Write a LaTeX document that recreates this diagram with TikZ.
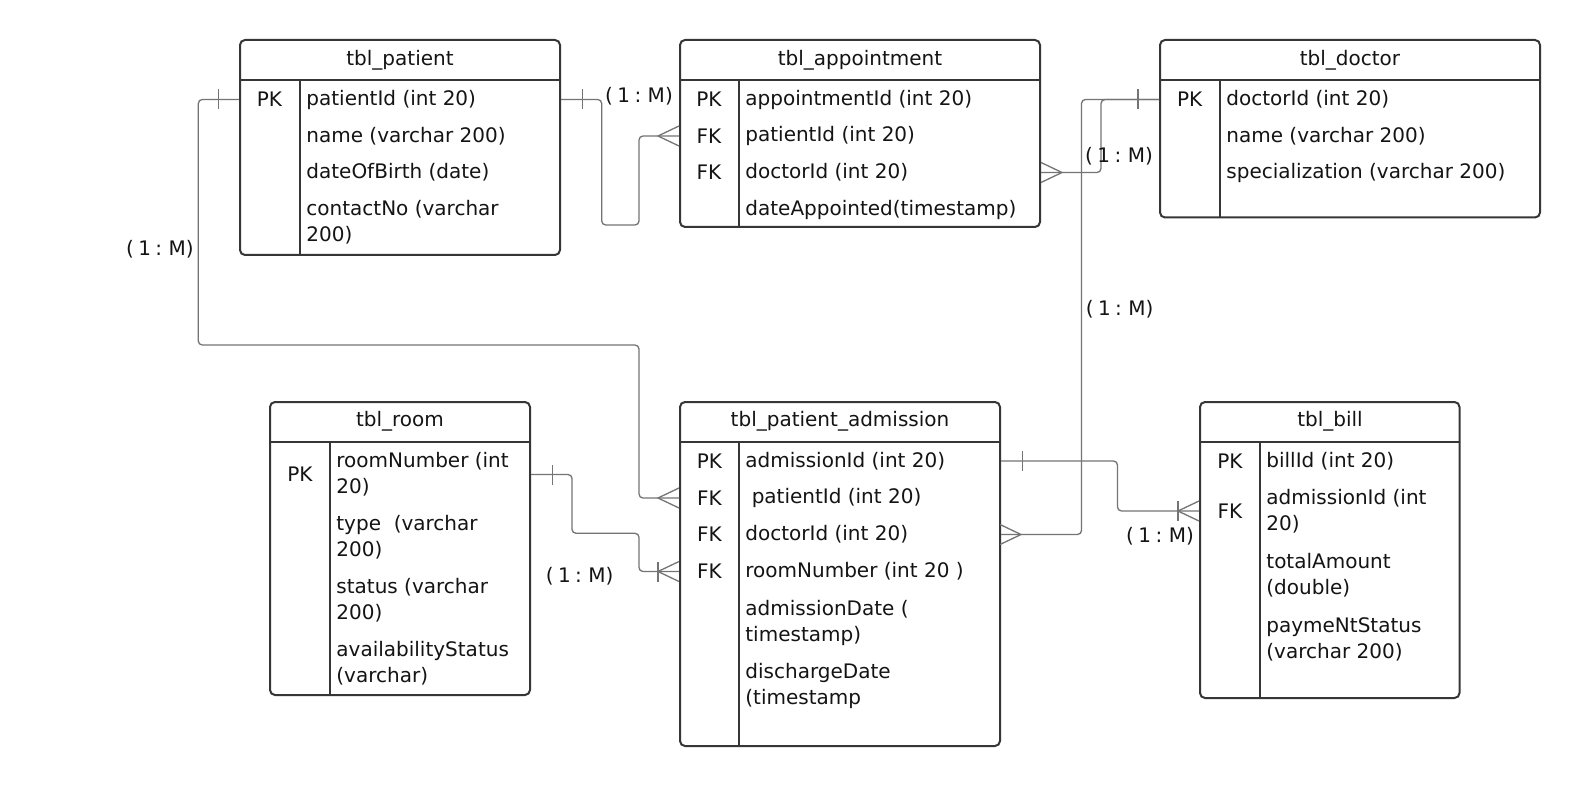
\documentclass[tikz,border=0pt]{standalone}
\usepackage{fontspec}
\setmainfont{DejaVu Sans}
\usetikzlibrary{calc,fit}
\definecolor{boxc}{HTML}{363636}
\definecolor{linec}{HTML}{747474}
\definecolor{txtc}{HTML}{141414}
\newcommand\mylblfont{\fontsize{10}{13}\selectfont\spaceskip=0.22em plus 0.1em minus 0.05em\relax}
\begin{document}
\begin{tikzpicture}[x=0.5pt,y=-0.5pt,
  tbl/.style={draw=boxc, line width=1pt, rounded corners=2.5pt, fill=white, inner sep=0pt},
  sepl/.style={draw=boxc, line width=1pt},
  fld/.style={anchor=west, inner sep=0pt, text=txtc, font=\fontsize{10}{13}\selectfont, align=left},
  keyc/.style={inner sep=0pt, text=txtc, font=\fontsize{10}{13}\selectfont},
  hdr/.style={inner sep=0pt, text=txtc, font=\fontsize{10}{13}\selectfont},
  conn/.style={draw=linec, line width=0.65pt, rounded corners=2pt},
  lbl/.style={inner sep=0pt, text=txtc, font=\mylblfont},
  one/.pic={\draw[draw=linec, line width=0.65pt] (0,-10) -- (0,10);},
  manyW/.pic={\draw[draw=linec, line width=0.65pt] (21,-10) -- (0,0) -- (21,10);},
  manyE/.pic={\draw[draw=linec, line width=0.65pt] (-21,-10) -- (0,0) -- (-21,10);}
]
\useasboundingbox[fill=white] (0,0) rectangle (1580,786);

% ---------- tbl_patient ----------
\node[tbl, fit={(240,40)(560,255)}] (patient) {};
\draw[sepl] (240,80) -- (560,80);
\draw[sepl] (299.5,80) -- (299.5,255);
\node[hdr] (patientH) at (400,60) {tbl\_patient};
\node[keyc] (pk1) at (269.5,99.5) {PK};
\node[fld] (pPK) at (306,99.5) {patientId (int 20)};
\node[fld] (pName) at (306,136) {name (varchar 200)};
\node[fld] (pDob) at (306,172.5) {dateOfBirth (date)};
\node[fld] (pCon) at (306,222.5) {contactNo (varchar\\200)};

% ---------- tbl_appointment ----------
\node[tbl, fit={(680,40)(1040,227)}] (appt) {};
\draw[sepl] (680,80) -- (1040,80);
\draw[sepl] (738.5,80) -- (738.5,227);
\node[hdr] (apptH) at (860,60) {tbl\_appointment};
\node[keyc] (ak1) at (709,99.5) {PK};
\node[keyc] (ak2) at (709,136) {FK};
\node[keyc] (ak3) at (709,172.5) {FK};
\node[fld] (apPK) at (745,99.5) {appointmentId (int 20)};
\node[fld] (apPat) at (745,136) {patientId (int 20)};
\node[fld] (apDoc) at (745,172.5) {doctorId (int 20)};
\node[fld] (apDate) at (745,209.5) {dateAppointed(timestamp)};

% ---------- tbl_doctor ----------
\node[tbl, fit={(1160,40)(1540,217.5)}] (doctor) {};
\draw[sepl] (1160,80) -- (1540,80);
\draw[sepl] (1219.5,80) -- (1219.5,217.5);
\node[hdr] (doctorH) at (1350,60) {tbl\_doctor};
\node[keyc] (dk1) at (1189.7,99.5) {PK};
\node[fld] (dPK) at (1226,99.5) {doctorId (int 20)};
\node[fld] (dName) at (1226,136) {name (varchar 200)};
\node[fld] (dSpec) at (1226,172.5) {specialization (varchar 200)};

% ---------- tbl_room ----------
\node[tbl, fit={(270,402)(530,695)}] (room) {};
\draw[sepl] (270,441.5) -- (530,441.5);
\draw[sepl] (330,441.5) -- (330,695);
\node[hdr] (roomH) at (400,421.5) {tbl\_room};
\node[keyc] (rk1) at (300,474.5) {PK};
\node[fld] (rPK) at (336,474.5) {roomNumber (int\\20)};
\node[fld] (rType) at (336,537) {type\ \ (varchar\\200)};
\node[fld] (rStat) at (336,600.5) {status (varchar\\200)};
\node[fld] (rAvail) at (336,663.5) {availabilityStatus\\(varchar)};

% ---------- tbl_patient_admission ----------
\node[tbl, fit={(680,402)(1000,746)}] (admission) {};
\draw[sepl] (680,441.5) -- (1000,441.5);
\draw[sepl] (739,441.5) -- (739,746);
\node[hdr] (admissionH) at (840,421.5) {tbl\_patient\_admission};
\node[keyc] (adk1) at (709.5,461) {PK};
\node[keyc] (adk2) at (709.5,498) {FK};
\node[keyc] (adk3) at (709.5,534.5) {FK};
\node[keyc] (adk4) at (709.5,571.5) {FK};
\node[fld] (aPK) at (745,461) {admissionId (int 20)};
\node[fld] (aPat) at (745,498) {\ patientId (int 20)};
\node[fld] (aDoc) at (745,534.5) {doctorId (int 20)};
\node[fld] (aRoom) at (745,571.5) {roomNumber (int 20 )};
\node[fld] (aAdm) at (745,622.8) {admissionDate (\\timestamp)};
\node[fld] (aDis) at (745,686.2) {dischargeDate\\(timestamp};

% ---------- tbl_bill ----------
\node[tbl, fit={(1200,402)(1459.5,698)}] (bill) {};
\draw[sepl] (1200,441.5) -- (1459.5,441.5);
\draw[sepl] (1260,441.5) -- (1260,698);
\node[hdr] (billH) at (1330,421.5) {tbl\_bill};
\node[keyc] (bk1) at (1230,461) {PK};
\node[keyc] (bk2) at (1230,511) {FK};
\node[fld] (bPK) at (1266,461) {billId (int 20)};
\node[fld] (bFK) at (1266,511) {admissionId (int\\20)};
\node[fld] (bTot) at (1266,574.9) {totalAmount\\(double)};
\node[fld] (bPay) at (1266,639.5) {paymeNtStatus\\(varchar 200)};

% ---------- connectors ----------
% patient -> admission (patientId)
\draw[conn] (patient.west |- pPK) -- ++(-40.7,0) |- (639,345) |- (admission.west |- aPat);
\pic at ($(patient.west |- pPK)+(-20.3,0)$) {one};
\pic at ($(admission.west |- aPat)+(-21,0)$) {manyW};

% patient -> appointment (patientId)
\draw[conn] (patient.east |- pPK) -- ++(40.7,0) |- (639,225) |- (appt.west |- apPat);
\pic at ($(patient.east |- pPK)+(21.7,0)$) {one};
\pic at ($(appt.west |- apPat)+(-21,0)$) {manyW};

% doctor -> appointment (doctorId)
\draw[conn] (doctor.west |- dPK) -| ($(appt.east |- apDoc)+(60,0)$) -- (appt.east |- apDoc);
\pic at ($(doctor.west |- dPK)+(-21,0)$) {one};
\pic at ($(appt.east |- apDoc)+(21,0)$) {manyE};

% doctor -> admission (doctorId)
\draw[conn] (doctor.west |- dPK) -| ($(admission.east |- aDoc)+(80.5,0)$) -- (admission.east |- aDoc);
\pic at ($(admission.east |- aDoc)+(20,0)$) {manyE};

% room -> admission (roomNumber)
\draw[conn] (room.east |- rk1) -- ++(41,0) |- (639,533.3) |- (admission.west |- aRoom);
\pic at ($(room.east |- rk1)+(21.7,0)$) {one};
\pic at ($(admission.west |- aRoom)+(-21,0)$) {manyW};
\pic at ($(admission.west |- aRoom)+(-21,0)$) {one};

% admission -> bill (admissionId)
\draw[conn] (admission.east |- aPK) -| ($(bill.west |- bFK)+(-81.5,0)$) -- (bill.west |- bFK);
\pic at ($(admission.east |- aPK)+(21.7,0)$) {one};
\pic at ($(bill.west |- bFK)+(-21,0)$) {manyW};
\pic at ($(bill.west |- bFK)+(-21,0)$) {one};

% ---------- cardinality labels ----------
\node[lbl] (m1) at (160,249.3) {( 1 : M)};
\node[lbl] (m2) at (639,96.7) {( 1 : M)};
\node[lbl] (m3) at (1119,156.7) {( 1 : M)};
\node[lbl] (m4) at (1119.7,309.3) {( 1 : M)};
\node[lbl] (m5) at (579.7,576) {( 1 : M)};
\node[lbl] (m6) at (1160,536.7) {( 1 : M)};
\end{tikzpicture}
\end{document}
